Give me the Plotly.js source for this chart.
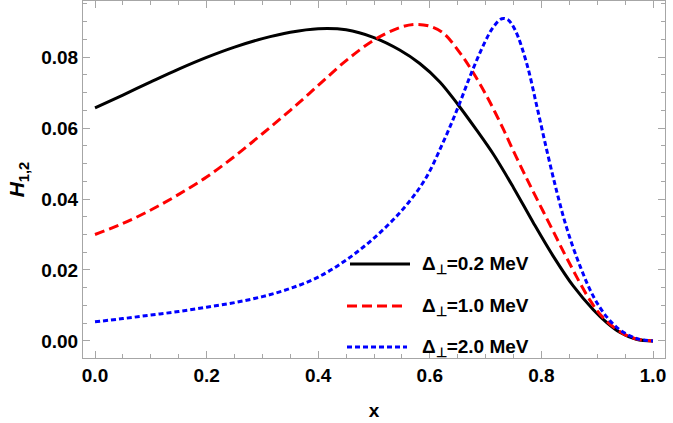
<!DOCTYPE html>
<html>
<head>
<meta charset="utf-8">
<script src="https://cdn.plot.ly/plotly-3.0.1.min.js"></script>
<style>html,body{margin:0;padding:0;background:#fff;}#chart{width:673px;height:423px;}</style>
</head>
<body>
<div id="chart"></div>
<script>
// Data
const xBlack = [0, 0.05, 0.10, 0.15, 0.20, 0.25, 0.30, 0.35, 0.40, 0.45, 0.50, 0.546, 0.582, 0.618, 0.651, 0.684, 0.714, 0.750, 0.786, 0.822, 0.857, 0.893, 0.917, 0.941, 0.97, 1.0];
const yBlack = [0.0657, 0.0693, 0.0730, 0.0766, 0.0799, 0.0828, 0.0852, 0.0870, 0.0880, 0.0877, 0.0855, 0.0820, 0.0782, 0.0730, 0.0665, 0.0594, 0.0526, 0.0432, 0.0332, 0.0237, 0.0155, 0.0088, 0.0052, 0.0024, 0.0005, 0.0];

const xRed = [0, 0.05, 0.10, 0.15, 0.20, 0.25, 0.30, 0.35, 0.40, 0.45, 0.50, 0.546, 0.573, 0.60, 0.624, 0.654, 0.675, 0.702, 0.732, 0.750, 0.768, 0.783, 0.819, 0.846, 0.887, 0.911, 0.947, 0.975, 1.0];
const yRed = [0.0300, 0.0331, 0.0369, 0.0413, 0.0462, 0.0520, 0.0584, 0.0650, 0.0720, 0.0790, 0.0848, 0.0883, 0.0892, 0.0887, 0.0868, 0.0812, 0.0763, 0.0690, 0.0596, 0.0535, 0.0476, 0.0428, 0.0316, 0.0232, 0.0115, 0.0065, 0.0020, 0.0004, 0.0];

const xBlue = [0, 0.05, 0.10, 0.15, 0.20, 0.25, 0.30, 0.35, 0.40, 0.45, 0.50, 0.55, 0.591, 0.624, 0.651, 0.675, 0.699, 0.714, 0.729, 0.740, 0.753, 0.774, 0.792, 0.810, 0.828, 0.846, 0.870, 0.893, 0.917, 0.941, 0.97, 1.0];
const yBlue = [0.0054, 0.0063, 0.0073, 0.0083, 0.0095, 0.0108, 0.0125, 0.0148, 0.0180, 0.0228, 0.0290, 0.0368, 0.0454, 0.0560, 0.0660, 0.0757, 0.0843, 0.0885, 0.0908, 0.0905, 0.0876, 0.0780, 0.0660, 0.0535, 0.0418, 0.0315, 0.0208, 0.0126, 0.0068, 0.0031, 0.0007, 0.0];

const seriesNames = ["Δ<sub>⊥</sub>=0.2 MeV", "Δ<sub>⊥</sub>=1.0 MeV", "Δ<sub>⊥</sub>=2.0 MeV"];
const seriesColors = ["#000000", "#FF0000", "#0000FF"];
const seriesDash = ["solid", "10px,5px", "5px,3px"];

const xTickVals = [0, 0.2, 0.4, 0.6, 0.8, 1.0];
const xTickText = ["0.0", "0.2", "0.4", "0.6", "0.8", "1.0"];
const yTickVals = [0, 0.02, 0.04, 0.06, 0.08];
const yTickText = ["0.00", "0.02", "0.04", "0.06", "0.08"];

const xs = [xBlack, xRed, xBlue];
const ys = [yBlack, yRed, yBlue];

const traces = xs.map((x, i) => ({
  x: x, y: ys[i], type: 'scatter', mode: 'lines',
  line: {color: seriesColors[i], width: 3, dash: seriesDash[i], shape: 'spline', smoothing: 1},
  showlegend: false, hoverinfo: 'skip'
}));

const FONT = 'Liberation Sans, Arial, sans-serif';
const frameColor = '#a6a6a6';

// manual legend (paper coordinates)
const legTop = [264, 306, 347];
const plotL = 83, plotR = 665, plotT = 1, plotB = 358;
const W = plotR - plotL, H = plotB - plotT;
const px = v => (v - plotL) / W;
const py = v => (plotB - v) / H;
const shapes = [];
const annotations = [];
legTop.forEach((yy, i) => {
  shapes.push({type: 'line', xref: 'paper', yref: 'paper', x0: px(i === 0 ? 350 : 347), x1: px(i === 0 ? 410 : 407), y0: py(yy), y1: py(yy),
    line: {color: seriesColors[i], width: 3, dash: seriesDash[i]}});
  annotations.push({xref: 'paper', yref: 'paper', x: px(420), y: py(yy + 1), xanchor: 'left', yanchor: 'middle',
    text: '<b>' + seriesNames[i] + '</b>', showarrow: false, font: {family: FONT, size: 19, color: '#000'}});
});

const layout = {
  width: 673, height: 423,
  margin: {l: plotL, r: 673 - plotR, t: plotT, b: 423 - plotB},
  paper_bgcolor: '#fff', plot_bgcolor: '#fff',
  font: {family: FONT, size: 19, color: '#000'},
  xaxis: {
    range: [-0.0215, 1.0215], tickvals: xTickVals, ticktext: xTickText,
    ticks: 'inside', ticklen: 7, tickwidth: 1, tickcolor: frameColor,
    minor: {dtick: 0.05, tick0: 0, ticks: 'inside', ticklen: 4, tickcolor: frameColor, showgrid: false},
    showline: true, linecolor: frameColor, linewidth: 1, mirror: 'ticks',
    showgrid: false, zeroline: false,
    tickfont: {family: FONT, size: 19, color: '#000', weight: 'bold'},
    title: {text: '<b>x</b>', font: {family: FONT, size: 19, color: '#000'}, standoff: 18}
  },
  yaxis: {
    range: [-0.0048, 0.0958], tickvals: yTickVals, ticktext: yTickText,
    ticks: 'inside', ticklen: 7, tickwidth: 1, tickcolor: frameColor,
    minor: {dtick: 0.005, tick0: 0, ticks: 'inside', ticklen: 4, tickcolor: frameColor, showgrid: false},
    showline: true, linecolor: frameColor, linewidth: 1, mirror: 'ticks',
    showgrid: false, zeroline: false,
    tickfont: {family: FONT, size: 19, color: '#000', weight: 'bold'},
    title: {text: '<b><i>H</i></b><sub><b>1,2</b></sub>', font: {family: FONT, size: 21, color: '#000'}, standoff: 10}
  },
  shapes: shapes,
  annotations: annotations,
  showlegend: false
};

Plotly.newPlot('chart', traces, layout, {staticPlot: true, displayModeBar: false});
</script>
</body>
</html>
